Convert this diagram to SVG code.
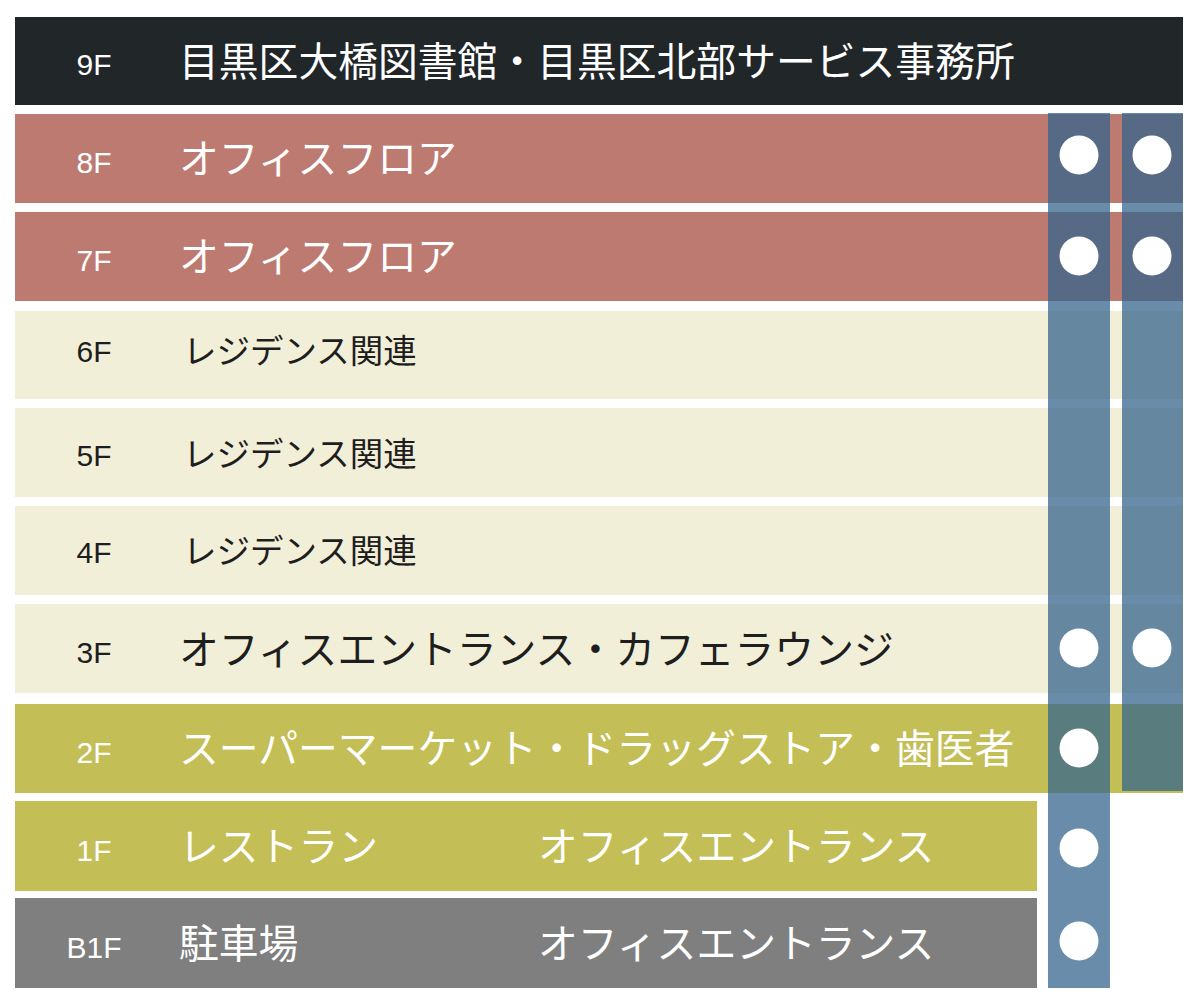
<svg xmlns="http://www.w3.org/2000/svg" width="1200" height="1007" viewBox="0 0 1200 1007">
<style>
.lbl{font-family:"Liberation Sans",Arial,sans-serif;font-size:30px;text-anchor:middle}
.jp{font-family:"Noto Sans CJK JP","Noto Sans",sans-serif;font-size:39.8px}
.jps{font-family:"Noto Sans CJK JP","Noto Sans",sans-serif;font-size:33.5px}
.w{fill:#ffffff}
.d{fill:#1e1e1e}
.dark{fill:#212629}
.red{fill:#bd7a71}
.cream{fill:#f2efd9}
.yel{fill:#c3be55}
.gray{fill:#7f7f7f}
.shaft{fill:rgb(53,102,140);fill-opacity:0.75}
.dot{fill:#ffffff}
</style>
<rect width="1200" height="1007" fill="#ffffff"/>
<g id="floor-9F">
<rect class="dark" x="15" y="17" width="1168" height="88"/>
<text class="lbl w" x="94" y="75">9F</text>
<text class="jp w" x="179" y="75.5">目黒区大橋図書館・目黒区北部サービス事務所</text>
</g>
<g id="floor-8F">
<rect class="red" x="15" y="114" width="1168" height="89"/>
<text class="lbl w" x="94" y="173">8F</text>
<text class="jp w" x="179" y="173">オフィスフロア</text>
</g>
<g id="floor-7F">
<rect class="red" x="15" y="212" width="1168" height="89"/>
<text class="lbl w" x="94" y="271">7F</text>
<text class="jp w" x="179" y="271">オフィスフロア</text>
</g>
<g id="floor-6F">
<rect class="cream" x="15" y="311" width="1168" height="88"/>
<text class="lbl d" x="94" y="362">6F</text>
<text class="jps d" x="183" y="363">レジデンス関連</text>
</g>
<g id="floor-5F">
<rect class="cream" x="15" y="408" width="1168" height="89"/>
<text class="lbl d" x="94" y="466">5F</text>
<text class="jps d" x="183" y="466">レジデンス関連</text>
</g>
<g id="floor-4F">
<rect class="cream" x="15" y="506" width="1168" height="89"/>
<text class="lbl d" x="94" y="563">4F</text>
<text class="jps d" x="183" y="563">レジデンス関連</text>
</g>
<g id="floor-3F">
<rect class="cream" x="15" y="604" width="1168" height="89"/>
<text class="lbl d" x="94" y="663">3F</text>
<text class="jp d" x="179" y="664">オフィスエントランス・カフェラウンジ</text>
</g>
<g id="floor-2F">
<rect class="yel" x="15" y="704" width="1168" height="89"/>
<text class="lbl w" x="94" y="763">2F</text>
<text class="jp w" x="179" y="763">スーパーマーケット・ドラッグストア・歯医者</text>
</g>
<g id="floor-1F">
<rect class="yel" x="15" y="801" width="1022" height="90"/>
<text class="lbl w" x="94" y="861">1F</text>
<text class="jp w" x="179" y="861">レストラン</text>
<text class="jp w" x="538" y="861">オフィスエントランス</text>
</g>
<g id="floor-B1F">
<rect class="gray" x="15" y="898" width="1022" height="90"/>
<text class="lbl w" x="94" y="958">B1F</text>
<text class="jp w" x="179" y="958">駐車場</text>
<text class="jp w" x="538" y="958">オフィスエントランス</text>
</g>
<g id="elevator-1">
<rect class="shaft" x="1048" y="113" width="62" height="875"/>
<circle class="dot" cx="1079" cy="155" r="19.5"/>
<circle class="dot" cx="1079" cy="256" r="19.5"/>
<circle class="dot" cx="1079" cy="648" r="19.5"/>
<circle class="dot" cx="1079" cy="748" r="19.5"/>
<circle class="dot" cx="1079" cy="848" r="19.5"/>
<circle class="dot" cx="1079" cy="941" r="19.5"/>
</g>
<g id="elevator-2">
<rect class="shaft" x="1122" y="113" width="61" height="678"/>
<circle class="dot" cx="1152" cy="155" r="19.5"/>
<circle class="dot" cx="1152" cy="256" r="19.5"/>
<circle class="dot" cx="1152" cy="648" r="19.5"/>
</g>
<g id="connectors"></g>
</svg>
